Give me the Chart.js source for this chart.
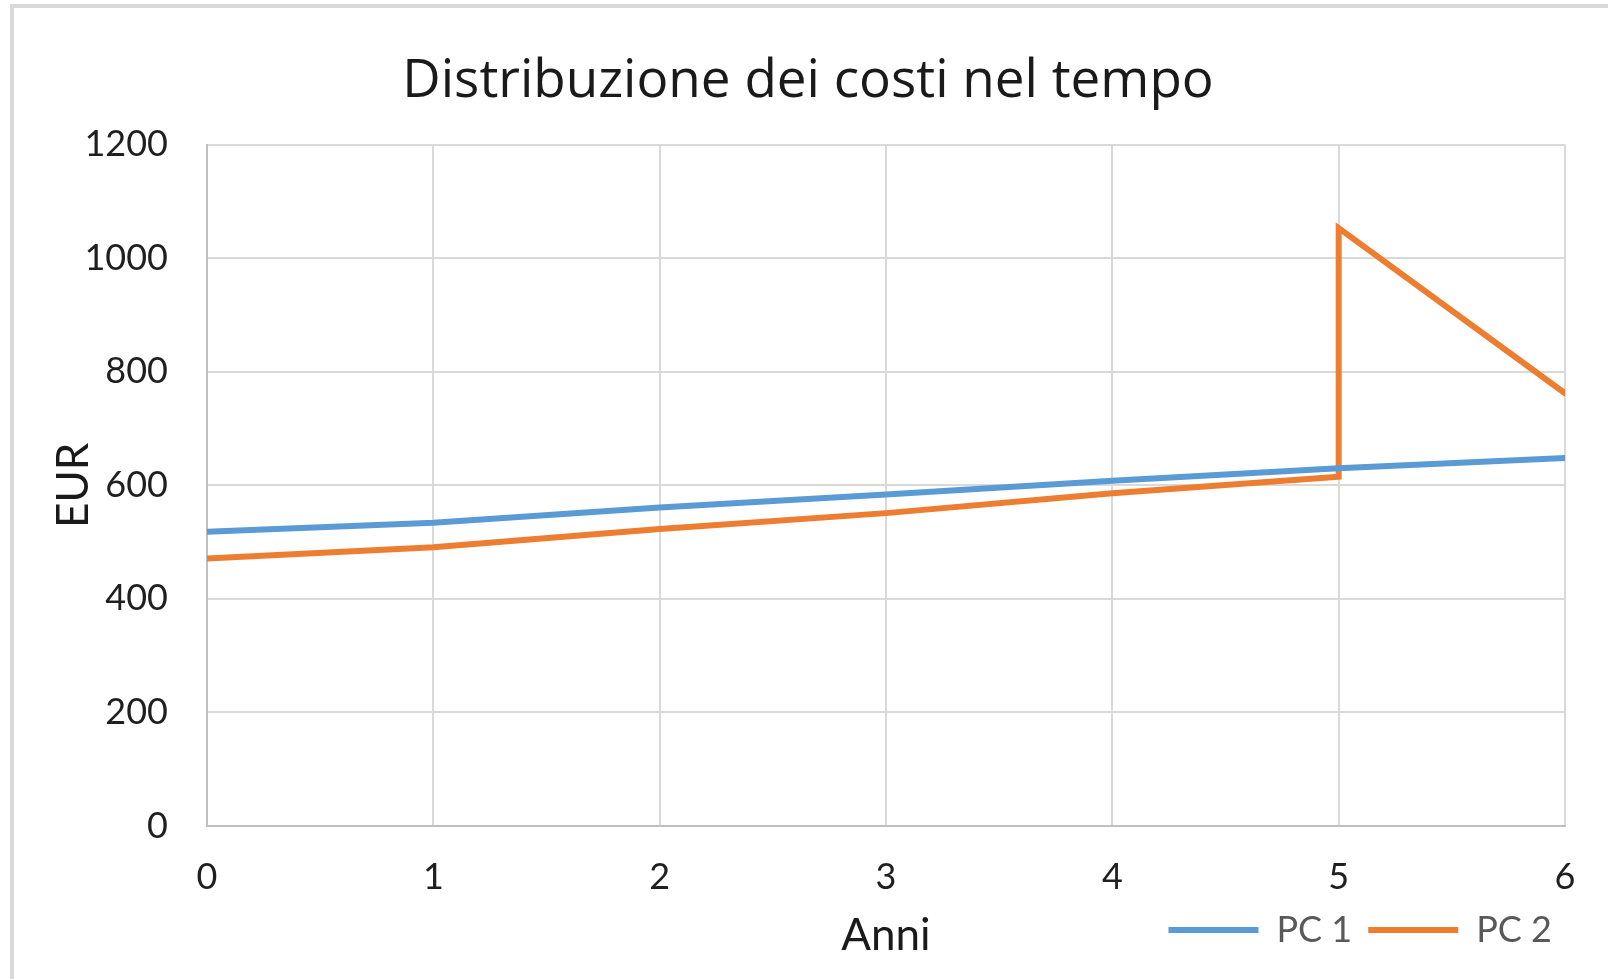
<!DOCTYPE html>
<html>
<head>
<meta charset="utf-8">
<script src="https://cdn.jsdelivr.net/npm/chart.js@4.4.0/dist/chart.umd.min.js"></script>
<style>
  html, body { margin: 0; padding: 0; background: #ffffff; }
  #frame { position: absolute; left: 10px; top: 4px; width: 1598px; height: 975px;
           border-left: 4px solid #d9d9d9; border-top: 4px solid #d9d9d9; box-sizing: border-box; }
  #wrap { position: absolute; left: 0; top: 0; width: 1608px; height: 979px; }
</style>
</head>
<body>
<div id="frame"></div>
<div id="wrap"><canvas id="c" width="1608" height="979"></canvas></div>
<script>
const chartTitle = "Distribuzione dei costi nel tempo";
const xTitle = "Anni";
const yTitle = "EUR";
const seriesNames = ["PC 1", "PC 2"];
const pc1X = [0, 1, 2, 3, 4, 5, 6];
const pc1Y = [518, 534, 561, 584, 608, 630, 648];
const pc2X = [0, 1, 2, 3, 4, 5, 5, 6];
const pc2Y = [471, 491, 523, 551, 586, 615, 1053, 762];
const xMin = 0, xMax = 6, xStep = 1;
const yMin = 0, yMax = 1200, yStep = 200;

const FONT = "Lato, 'Open Sans', sans-serif";
const TITLE_FONT = "'Open Sans', Lato, sans-serif";
const toPts = (xs, ys) => xs.map((x, i) => ({x: x, y: ys[i]}));

new Chart(document.getElementById('c'), {
  type: 'scatter',
  data: {
    datasets: [
      { label: seriesNames[0], data: toPts(pc1X, pc1Y), showLine: true,
        borderColor: '#5B9BD5', backgroundColor: '#5B9BD5', borderWidth: 6,
        pointRadius: 0, pointHoverRadius: 0, tension: 0, borderCapStyle: 'round', borderJoinStyle: 'miter' },
      { label: seriesNames[1], data: toPts(pc2X, pc2Y), showLine: true,
        borderColor: '#ED7D31', backgroundColor: '#ED7D31', borderWidth: 6,
        pointRadius: 0, pointHoverRadius: 0, tension: 0, borderCapStyle: 'round', borderJoinStyle: 'miter' }
    ]
  },
  options: {
    responsive: false,
    animation: false,
    layout: { padding: { left: 48, right: 40, top: 0, bottom: 21 } },
    plugins: {
      title: {
        display: true, text: chartTitle, color: '#1a1a1a',
        font: { family: TITLE_FONT, size: 53, weight: 'normal' },
        padding: { top: 50, bottom: 31 }
      },
      legend: {
        position: 'bottom', align: 'end',
        labels: {
          usePointStyle: true, pointStyle: 'line', pointStyleWidth: 90,
          color: '#595959', padding: 16,
          font: { family: FONT, size: 36 }
        }
      },
      tooltip: { enabled: false }
    },
    scales: {
      x: {
        type: 'linear', min: xMin, max: xMax,
        ticks: { stepSize: xStep, padding: 30, color: '#1f1f1f', font: { family: FONT, size: 36 },
                 callback: v => String(v) },
        grid: { color: '#d9d9d9', lineWidth: 2, drawTicks: false },
        border: { color: '#bfbfbf', width: 2 },
        title: { display: true, text: xTitle, color: '#1a1a1a',
                 font: { family: FONT, size: 44 }, padding: { top: 0, bottom: -66 } },
        afterFit: s => { s.height = 70; }
      },
      y: {
        type: 'linear', min: yMin, max: yMax,
        ticks: { stepSize: yStep, padding: 39, color: '#1f1f1f', font: { family: FONT, size: 36 },
                 callback: v => String(v) },
        grid: { color: '#d9d9d9', lineWidth: 2, drawTicks: false },
        border: { color: '#bfbfbf', width: 2 },
        title: { display: true, text: yTitle, color: '#1a1a1a',
                 font: { family: FONT, size: 44 }, padding: { top: -1, bottom: 0 } },
        afterFit: s => { s.width = 159; }
      },
      y2: {
        type: 'linear', position: 'right', display: true,
        ticks: { display: false }, grid: { display: false }, border: { display: false },
        afterFit: s => { s.width = 3; }
      }
    }
  }
});
</script>
</body>
</html>
